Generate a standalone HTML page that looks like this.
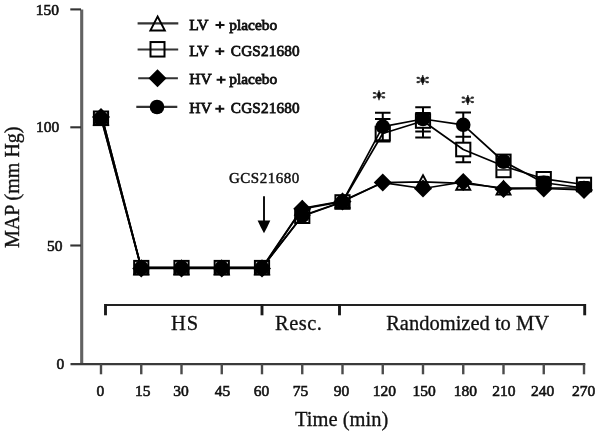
<!DOCTYPE html>
<html><head><meta charset="utf-8"><style>
html,body{margin:0;padding:0;background:#fff;}
body{width:601px;height:436px;position:relative;overflow:hidden;}
svg{position:absolute;left:0;top:0;font-family:"Liberation Serif",serif;filter:blur(0.35px);}
text{fill:#111;}
</style></head><body>
<svg width="601" height="436" viewBox="0 0 601 436">
<path d="M81.7 9.5V363.9" stroke="#626262" stroke-width="3.1" fill="none"/>
<path d="M70.5 364.1H585.3" stroke="#3a3a3a" stroke-width="2.3" fill="none"/>
<path d="M70.3 9.4H81" stroke="#333" stroke-width="2.1"/>
<path d="M70.3 127.3H81" stroke="#333" stroke-width="2.1"/>
<path d="M70.3 245.5H81" stroke="#333" stroke-width="2.1"/>
<path d="M101.00 364V374.3" stroke="#4a4a4a" stroke-width="2.4"/>
<path d="M141.25 364V374.3" stroke="#4a4a4a" stroke-width="2.4"/>
<path d="M181.50 364V374.3" stroke="#4a4a4a" stroke-width="2.4"/>
<path d="M221.75 364V374.3" stroke="#4a4a4a" stroke-width="2.4"/>
<path d="M262.00 364V374.3" stroke="#4a4a4a" stroke-width="2.4"/>
<path d="M302.25 364V374.3" stroke="#4a4a4a" stroke-width="2.4"/>
<path d="M342.50 364V374.3" stroke="#4a4a4a" stroke-width="2.4"/>
<path d="M382.75 364V374.3" stroke="#4a4a4a" stroke-width="2.4"/>
<path d="M423.00 364V374.3" stroke="#4a4a4a" stroke-width="2.4"/>
<path d="M463.25 364V374.3" stroke="#4a4a4a" stroke-width="2.4"/>
<path d="M503.50 364V374.3" stroke="#4a4a4a" stroke-width="2.4"/>
<path d="M543.75 364V374.3" stroke="#4a4a4a" stroke-width="2.4"/>
<path d="M584.00 364V374.3" stroke="#4a4a4a" stroke-width="2.4"/>
<path d="M105.5 305H586" stroke="#222" stroke-width="2.2" fill="none"/>
<path d="M105.5 304V315.3" stroke="#1a1a1a" stroke-width="2.9"/>
<path d="M262 304V315.3" stroke="#1a1a1a" stroke-width="2.9"/>
<path d="M339.5 304V315.3" stroke="#1a1a1a" stroke-width="2.9"/>
<path d="M584.7 304V315.3" stroke="#1a1a1a" stroke-width="2.9"/>
<path d="M382.75 112.80V121.00M382.75 132.00V141.50M375.00 112.80h15.5M375.00 118.90h15.5M375.00 141.50h15.5" stroke="#000" stroke-width="2" fill="none"/>
<path d="M423.00 107.20V113.00M423.00 127.00V137.40M415.25 107.20h15.5M415.25 113.00h15.5M415.25 131.40h15.5M415.25 137.40h15.5" stroke="#000" stroke-width="2" fill="none"/>
<path d="M463.25 112.50V119.00M463.25 130.00V143.00M463.25 156.00V162.20M455.50 112.50h15.5M455.50 136.80h15.5M455.50 162.20h15.5" stroke="#000" stroke-width="2" fill="none"/>
<polyline points="101.00,118.00 141.25,267.70 181.50,267.70 221.75,267.70 262.00,267.70 302.25,208.30 342.50,201.00 382.75,182.60 423.00,181.80 463.25,183.30 503.50,188.00 543.75,188.00 584.00,188.00" fill="none" stroke="#000" stroke-width="1.7" stroke-linejoin="round"/>
<polyline points="101.00,117.00 141.25,268.40 181.50,268.40 221.75,268.40 262.00,268.40 302.25,208.80 342.50,201.60 382.75,182.60 423.00,188.50 463.25,182.00 503.50,189.00 543.75,188.50 584.00,190.00" fill="none" stroke="#000" stroke-width="1.7" stroke-linejoin="round"/>
<polyline points="102.30,118.30 141.25,267.70 181.50,267.70 221.75,267.70 262.00,267.70 302.25,216.20 342.50,202.00 382.75,133.50 423.00,121.00 463.25,149.50 503.50,166.00 543.75,178.80 584.00,184.50" fill="none" stroke="#000" stroke-width="1.7" stroke-linejoin="round"/>
<polyline points="102.30,118.30 141.25,267.70 181.50,267.70 221.75,267.70 262.00,267.70 302.25,215.80 342.50,201.80 382.75,126.60 423.00,119.00 463.25,124.80 503.50,161.50 543.75,182.75 584.00,188.00" fill="none" stroke="#000" stroke-width="1.7" stroke-linejoin="round"/>
<path d="M101.00 111.50L108.00 124.50L94.00 124.50Z" fill="none" stroke="#000" stroke-width="1.9" stroke-linejoin="miter"/>
<rect x="93.90" y="111.50" width="14.2" height="13.6" fill="none" stroke="#000" stroke-width="2"/>
<path d="M101.00 108.00L110.00 117.00L101.00 126.00L92.00 117.00Z" fill="#000"/>
<circle cx="101.00" cy="118.30" r="7.3" fill="#000"/>
<path d="M141.25 261.20L148.25 274.20L134.25 274.20Z" fill="none" stroke="#000" stroke-width="1.9" stroke-linejoin="miter"/>
<rect x="134.15" y="260.90" width="14.2" height="13.6" fill="none" stroke="#000" stroke-width="2"/>
<path d="M141.25 259.40L150.25 268.40L141.25 277.40L132.25 268.40Z" fill="#000"/>
<circle cx="141.25" cy="267.70" r="7.3" fill="#000"/>
<path d="M181.50 261.20L188.50 274.20L174.50 274.20Z" fill="none" stroke="#000" stroke-width="1.9" stroke-linejoin="miter"/>
<rect x="174.40" y="260.90" width="14.2" height="13.6" fill="none" stroke="#000" stroke-width="2"/>
<path d="M181.50 259.40L190.50 268.40L181.50 277.40L172.50 268.40Z" fill="#000"/>
<circle cx="181.50" cy="267.70" r="7.3" fill="#000"/>
<path d="M221.75 261.20L228.75 274.20L214.75 274.20Z" fill="none" stroke="#000" stroke-width="1.9" stroke-linejoin="miter"/>
<rect x="214.65" y="260.90" width="14.2" height="13.6" fill="none" stroke="#000" stroke-width="2"/>
<path d="M221.75 259.40L230.75 268.40L221.75 277.40L212.75 268.40Z" fill="#000"/>
<circle cx="221.75" cy="267.70" r="7.3" fill="#000"/>
<path d="M262.00 261.20L269.00 274.20L255.00 274.20Z" fill="none" stroke="#000" stroke-width="1.9" stroke-linejoin="miter"/>
<rect x="254.90" y="260.90" width="14.2" height="13.6" fill="none" stroke="#000" stroke-width="2"/>
<path d="M262.00 259.40L271.00 268.40L262.00 277.40L253.00 268.40Z" fill="#000"/>
<circle cx="262.00" cy="267.70" r="7.3" fill="#000"/>
<path d="M302.25 201.80L309.25 214.80L295.25 214.80Z" fill="none" stroke="#000" stroke-width="1.9" stroke-linejoin="miter"/>
<rect x="295.15" y="209.40" width="14.2" height="13.6" fill="none" stroke="#000" stroke-width="2"/>
<path d="M302.25 199.80L311.25 208.80L302.25 217.80L293.25 208.80Z" fill="#000"/>
<circle cx="302.25" cy="215.80" r="7.3" fill="#000"/>
<path d="M342.50 194.50L349.50 207.50L335.50 207.50Z" fill="none" stroke="#000" stroke-width="1.9" stroke-linejoin="miter"/>
<rect x="335.40" y="195.20" width="14.2" height="13.6" fill="none" stroke="#000" stroke-width="2"/>
<path d="M342.50 192.60L351.50 201.60L342.50 210.60L333.50 201.60Z" fill="#000"/>
<circle cx="342.50" cy="201.80" r="7.3" fill="#000"/>
<rect x="375.65" y="126.70" width="14.2" height="13.6" fill="none" stroke="#000" stroke-width="2"/>
<path d="M382.75 173.60L391.75 182.60L382.75 191.60L373.75 182.60Z" fill="#000"/>
<circle cx="382.75" cy="126.60" r="7.3" fill="#000"/>
<path d="M423.00 175.30L430.00 188.30L416.00 188.30Z" fill="none" stroke="#000" stroke-width="1.9" stroke-linejoin="miter"/>
<rect x="415.90" y="114.20" width="14.2" height="13.6" fill="none" stroke="#000" stroke-width="2"/>
<path d="M423.00 179.50L432.00 188.50L423.00 197.50L414.00 188.50Z" fill="#000"/>
<circle cx="423.00" cy="119.00" r="7.3" fill="#000"/>
<path d="M463.25 176.80L470.25 189.80L456.25 189.80Z" fill="none" stroke="#000" stroke-width="1.9" stroke-linejoin="miter"/>
<rect x="456.15" y="142.70" width="14.2" height="13.6" fill="none" stroke="#000" stroke-width="2"/>
<path d="M463.25 173.00L472.25 182.00L463.25 191.00L454.25 182.00Z" fill="#000"/>
<circle cx="463.25" cy="124.80" r="7.3" fill="#000"/>
<path d="M503.50 181.50L510.50 194.50L496.50 194.50Z" fill="none" stroke="#000" stroke-width="1.9" stroke-linejoin="miter"/>
<rect x="496.40" y="154.6" width="14.2" height="22.6" fill="none" stroke="#000" stroke-width="2"/>
<path d="M496.50 169.9h14" stroke="#222" stroke-width="1.6"/>
<rect x="496.40" y="154.6" width="14.2" height="14" rx="6.2" fill="#000"/>
<path d="M503.50 180.00L512.50 189.00L503.50 198.00L494.50 189.00Z" fill="#000"/>
<circle cx="503.50" cy="161.50" r="7.3" fill="#000"/>
<rect x="536.65" y="172.00" width="14.2" height="13.6" fill="none" stroke="#000" stroke-width="2"/>
<path d="M543.75 179.50L552.75 188.50L543.75 197.50L534.75 188.50Z" fill="#000"/>
<circle cx="543.75" cy="182.75" r="7.3" fill="#000"/>
<rect x="536.85" y="175.75" width="13.8" height="15.75" rx="3" fill="#000"/>
<rect x="576.90" y="177.70" width="14.2" height="13.6" fill="none" stroke="#000" stroke-width="2"/>
<path d="M584.00 181.00L593.00 190.00L584.00 199.00L575.00 190.00Z" fill="#000"/>
<circle cx="584.00" cy="188.00" r="7.3" fill="#000"/>
<rect x="577.10" y="181.00" width="13.8" height="12.00" rx="3" fill="#000"/>
<path d="M379.00 90.20V100.20" stroke="#444" stroke-width="1.5"/>
<path d="M373.60 92.70L384.40 97.70M373.60 97.70L384.40 92.70" stroke="#666" stroke-width="1.4" fill="none"/>
<ellipse cx="379.00" cy="95.20" rx="1.7" ry="3.4" fill="#111"/>
<ellipse cx="374.40" cy="93.00" rx="1.7" ry="1.1" fill="#333"/>
<ellipse cx="374.40" cy="97.40" rx="1.7" ry="1.1" fill="#333"/>
<ellipse cx="383.60" cy="93.00" rx="1.7" ry="1.1" fill="#333"/>
<ellipse cx="383.60" cy="97.40" rx="1.7" ry="1.1" fill="#333"/>
<path d="M422.70 75.00V85.00" stroke="#444" stroke-width="1.5"/>
<path d="M417.30 77.50L428.10 82.50M417.30 82.50L428.10 77.50" stroke="#666" stroke-width="1.4" fill="none"/>
<ellipse cx="422.70" cy="80.00" rx="1.7" ry="3.4" fill="#111"/>
<ellipse cx="418.10" cy="77.80" rx="1.7" ry="1.1" fill="#333"/>
<ellipse cx="418.10" cy="82.20" rx="1.7" ry="1.1" fill="#333"/>
<ellipse cx="427.30" cy="77.80" rx="1.7" ry="1.1" fill="#333"/>
<ellipse cx="427.30" cy="82.20" rx="1.7" ry="1.1" fill="#333"/>
<path d="M467.80 94.90V104.90" stroke="#444" stroke-width="1.5"/>
<path d="M462.40 97.40L473.20 102.40M462.40 102.40L473.20 97.40" stroke="#666" stroke-width="1.4" fill="none"/>
<ellipse cx="467.80" cy="99.90" rx="1.7" ry="3.4" fill="#111"/>
<ellipse cx="463.20" cy="97.70" rx="1.7" ry="1.1" fill="#333"/>
<ellipse cx="463.20" cy="102.10" rx="1.7" ry="1.1" fill="#333"/>
<ellipse cx="472.40" cy="97.70" rx="1.7" ry="1.1" fill="#333"/>
<ellipse cx="472.40" cy="102.10" rx="1.7" ry="1.1" fill="#333"/>
<path d="M264 196.2V222" stroke="#111" stroke-width="2"/>
<path d="M257.6 220.5L270.3 220.5Q267.5 227 264 233.2Q260.5 227 257.6 220.5Z" fill="#000"/>
<path d="M137.6 23.4H178.3" stroke="#333" stroke-width="2.1"/>
<path d="M157.60 16.50L164.85 30.50L150.35 30.50Z" fill="none" stroke="#000" stroke-width="1.9" stroke-linejoin="miter"/>
<path d="M137.6 49.5H178.2" stroke="#333" stroke-width="2.1"/>
<rect x="150.50" y="42.05" width="14" height="14.5" fill="none" stroke="#000" stroke-width="2"/>
<path d="M138.2 78.3H177.9" stroke="#333" stroke-width="2.1"/>
<path d="M157.50 69.20L166.50 78.20L157.50 87.20L148.50 78.20Z" fill="#000"/>
<path d="M136.3 106.9H177.3" stroke="#333" stroke-width="2.1"/>
<circle cx="157.00" cy="107.00" r="7.3" fill="#000"/>
<text x="35.8" y="15" font-size="15.5" font-weight="normal" text-anchor="start" stroke="#111" stroke-width="0.6">150</text>
<text x="36" y="132.4" font-size="15.5" font-weight="normal" text-anchor="start" stroke="#111" stroke-width="0.6">100</text>
<text x="47" y="251.2" font-size="15.5" font-weight="normal" text-anchor="start" stroke="#111" stroke-width="0.6">50</text>
<text x="56.5" y="369" font-size="15.5" font-weight="normal" text-anchor="start" stroke="#111" stroke-width="0.6">0</text>
<text x="100.4" y="396.3" font-size="15.5" font-weight="normal" text-anchor="middle" stroke="#111" stroke-width="0.6">0</text>
<text x="142.8" y="396.3" font-size="15.5" font-weight="normal" text-anchor="middle" stroke="#111" stroke-width="0.6">15</text>
<text x="181.1" y="396.3" font-size="15.5" font-weight="normal" text-anchor="middle" stroke="#111" stroke-width="0.6">30</text>
<text x="222.6" y="396.3" font-size="15.5" font-weight="normal" text-anchor="middle" stroke="#111" stroke-width="0.6">45</text>
<text x="261.5" y="396.3" font-size="15.5" font-weight="normal" text-anchor="middle" stroke="#111" stroke-width="0.6">60</text>
<text x="300.5" y="396.3" font-size="15.5" font-weight="normal" text-anchor="middle" stroke="#111" stroke-width="0.6">75</text>
<text x="341.4" y="396.3" font-size="15.5" font-weight="normal" text-anchor="middle" stroke="#111" stroke-width="0.6">90</text>
<text x="384.4" y="396.3" font-size="15.5" font-weight="normal" text-anchor="middle" stroke="#111" stroke-width="0.6">120</text>
<text x="424.1" y="396.3" font-size="15.5" font-weight="normal" text-anchor="middle" stroke="#111" stroke-width="0.6">150</text>
<text x="465.4" y="396.3" font-size="15.5" font-weight="normal" text-anchor="middle" stroke="#111" stroke-width="0.6">180</text>
<text x="503.9" y="396.3" font-size="15.5" font-weight="normal" text-anchor="middle" stroke="#111" stroke-width="0.6">210</text>
<text x="542.6" y="396.3" font-size="15.5" font-weight="normal" text-anchor="middle" stroke="#111" stroke-width="0.6">240</text>
<text x="583.7" y="396.3" font-size="15.5" font-weight="normal" text-anchor="middle" stroke="#111" stroke-width="0.6">270</text>
<text x="295" y="426" font-size="20.5" font-weight="normal" text-anchor="start" stroke="#111" stroke-width="0.3">Time (min)</text>
<text x="171" y="330.3" font-size="20.5" font-weight="normal" text-anchor="start" stroke="#111" stroke-width="0.3" letter-spacing="1">HS</text>
<text x="275" y="330.3" font-size="20.5" font-weight="normal" text-anchor="start" stroke="#111" stroke-width="0.3" letter-spacing="0.5">Resc.</text>
<text x="386.2" y="330.3" font-size="20.5" font-weight="normal" text-anchor="start" stroke="#111" stroke-width="0.3">Randomized to MV</text>
<text x="229" y="183" font-size="15" font-weight="normal" text-anchor="start" stroke="#111" stroke-width="0.45" letter-spacing="0.5">GCS21680</text>
<text x="189.2" y="30.2" font-size="15.5" font-weight="normal" text-anchor="start" stroke="#111" stroke-width="0.8">LV</text>
<text x="229.3" y="30.2" font-size="15.4" font-weight="normal" text-anchor="start" stroke="#111" stroke-width="0.8">placebo</text>
<text x="189.2" y="55.8" font-size="15.5" font-weight="normal" text-anchor="start" stroke="#111" stroke-width="0.8">LV</text>
<text x="230.8" y="55.8" font-size="15.2" font-weight="normal" text-anchor="start" stroke="#111" stroke-width="0.8" letter-spacing="0.2">CGS21680</text>
<text x="189.2" y="84" font-size="15.5" font-weight="normal" text-anchor="start" stroke="#111" stroke-width="0.8">HV</text>
<text x="229.3" y="84" font-size="15.4" font-weight="normal" text-anchor="start" stroke="#111" stroke-width="0.8">placebo</text>
<text x="189.2" y="113.3" font-size="15.5" font-weight="normal" text-anchor="start" stroke="#111" stroke-width="0.8">HV</text>
<text x="230.8" y="113.3" font-size="15.2" font-weight="normal" text-anchor="start" stroke="#111" stroke-width="0.8" letter-spacing="0.2">CGS21680</text>
<path d="M215.5 25h9M220 21.4v7.2" stroke="#111" stroke-width="2.1"/>
<path d="M215.3 51.3h9M219.8 47.699999999999996v7.2" stroke="#111" stroke-width="2.1"/>
<path d="M216.6 79.8h9M221.1 76.2v7.2" stroke="#111" stroke-width="2.1"/>
<path d="M215.3 108.8h9M219.8 105.2v7.2" stroke="#111" stroke-width="2.1"/>
<text x="0" y="0" font-size="20" stroke="#111" stroke-width="0.35" transform="translate(19.2 248) rotate(-90)">MAP (mm Hg)</text>
</svg>
</body></html>
